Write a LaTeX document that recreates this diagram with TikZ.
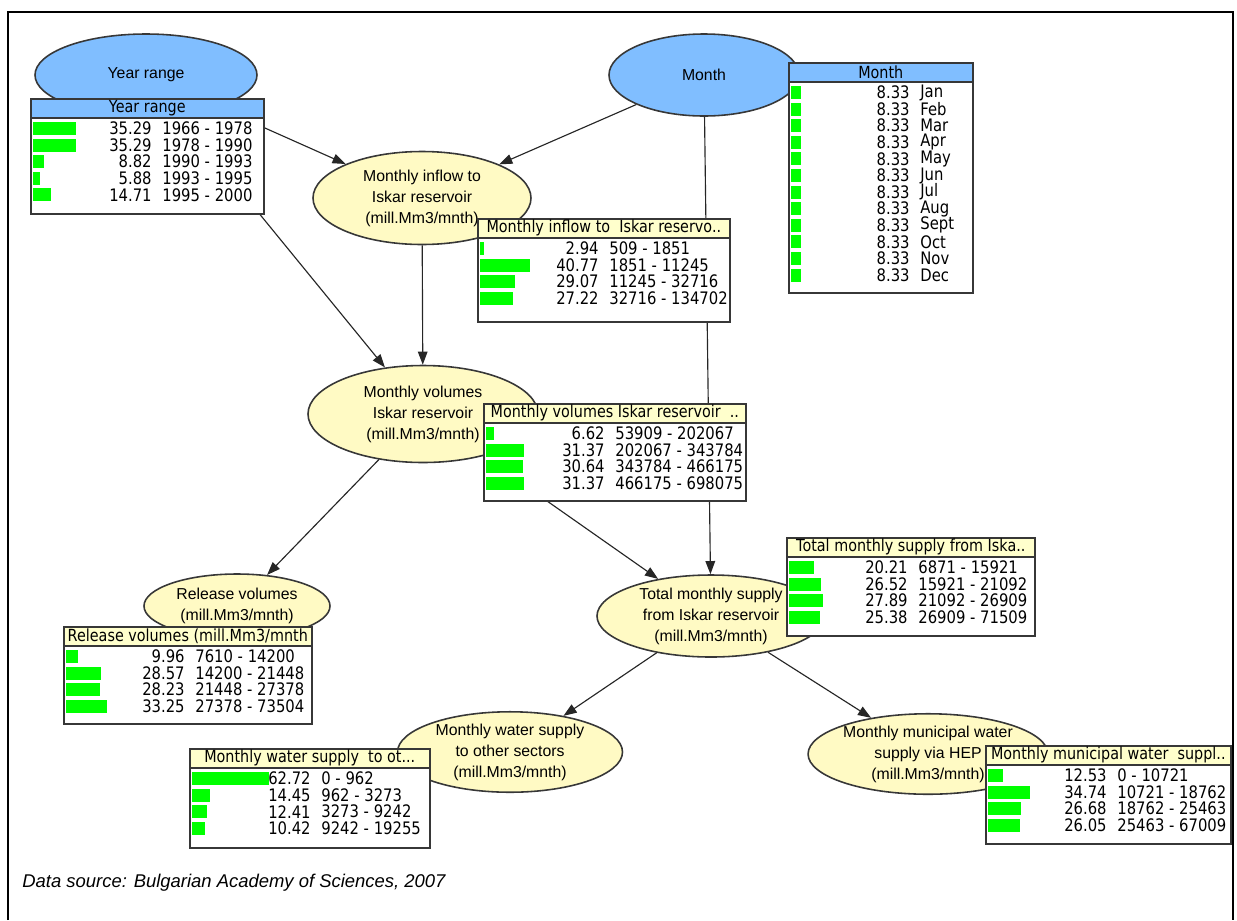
\documentclass[tikz,border=0pt]{standalone}
\usepackage{fontspec}
\setmainfont{Liberation Sans}
\newfontfamily\cptfont[FakeStretch=0.86]{DejaVu Sans}
\usetikzlibrary{shapes.geometric,arrows.meta}
\definecolor{varblue}{RGB}{128,190,255}
\definecolor{varyellow}{RGB}{255,250,196}
\definecolor{headyellow}{RGB}{255,255,204}
\definecolor{bargreen}{RGB}{0,255,0}
\definecolor{edgegray}{RGB}{55,55,55}
\newlength{\pxu}
\setlength{\pxu}{0.02cm}
\newcommand{\cpt}[7]{% name, left, top, width, height, header fill, header text
  \xdef\cptx{#2}\xdef\cpty{#3}%
  \node[cptbox, minimum width={#4*\pxu}, minimum height={#5*\pxu}] (#1) at (#2,#3) {};%
  \node[cpthead, fill=#6, minimum width={#4*\pxu}] (#1h) at (#2,#3) {\makebox[0pt]{#7}};%
}
\newcommand{\cptrow}[4]{% name, row, percent, state
  \pgfmathsetmacro{\rowy}{\cpty+30.5+16.6*(#2-1)}%
  \fill[bargreen] (\cptx+3,\rowy-6.5) rectangle ++({1.22*#3},13);%
  \node[cpttext, anchor=east] (#1p#2) at (\cptx+122,\rowy) {#3};%
  \node[cpttext, anchor=west] (#1s#2) at (\cptx+132,\rowy) {#4};%
}
\tikzset{
  chance/.style={ellipse, draw=edgegray, line width=0.9pt, align=center, inner sep=0pt,
    font=\fontsize{9}{12}\selectfont},
  cptbox/.style={draw=edgegray, line width=0.9pt, fill=white, anchor=north west, inner sep=0pt},
  cpthead/.style={draw=edgegray, line width=0.9pt, anchor=north west, inner sep=0pt,
    minimum height={19*\pxu}, font=\cptfont\fontsize{9.5}{10}\selectfont},
  cpttext/.style={inner sep=0pt, font=\cptfont\fontsize{9.8}{10}\selectfont},
  depend/.style={draw=black!85, line width=0.65pt, -{Triangle[length=7.5pt,width=5.5pt]}}
}
\begin{document}
\begin{tikzpicture}[x=0.02cm, y=-0.02cm]
  \useasboundingbox (0,0) rectangle (1237,920);
  \draw[line width=1pt] (8,920) -- (8,12) -- (1233,12) -- (1233,920);
  %
  \node[chance, fill=varblue, minimum width={222*\pxu}, minimum height={82*\pxu}] (yr) at (146,75) {Year range};
  \node[chance, fill=varblue, minimum width={190*\pxu}, minimum height={82*\pxu}] (mon) at (704,75) {Month};
  \node[chance, fill=varyellow, minimum width={218*\pxu}, minimum height={93*\pxu}] (inflow) at (422,198) {Monthly inflow to\\Iskar reservoir\\(mill.Mm3/mnth)};
  \node[chance, fill=varyellow, minimum width={230*\pxu}, minimum height={97*\pxu}] (vol) at (423,414) {Monthly volumes\\Iskar reservoir\\(mill.Mm3/mnth)};
  \node[chance, fill=varyellow, minimum width={186*\pxu}, minimum height={64*\pxu}] (rel) at (237,606) {Release volumes\\(mill.Mm3/mnth)};
  \node[chance, fill=varyellow, minimum width={228*\pxu}, minimum height={82*\pxu}] (tot) at (711,616) {Total monthly supply\\from Iskar reservoir\\(mill.Mm3/mnth)};
  \node[chance, fill=varyellow, minimum width={225*\pxu}, minimum height={78*\pxu}] (oth) at (510,752) {Monthly water supply\\to other sectors\\(mill.Mm3/mnth)};
  \node[chance, fill=varyellow, minimum width={232*\pxu}, minimum height={79*\pxu}] (mun) at (928,754) {Monthly municipal water\\supply via HEP\\(mill.Mm3/mnth)};
  %
  \draw[depend] (yr) -- (inflow);
  \draw[depend] (yr) -- (vol);
  \draw[depend] (mon) -- (inflow);
  \draw[depend] (mon) -- (tot);
  \draw[depend] (inflow) -- (vol);
  \draw[depend] (vol) -- (rel);
  \draw[depend] (vol) -- (tot);
  \draw[depend] (tot) -- (oth);
  \draw[depend] (tot) -- (mun);
  %
  \cpt{yrT}{30}{98}{233}{115}{varblue}{Year range}
  \cptrow{yrT}{1}{35.29}{1966 - 1978}
  \cptrow{yrT}{2}{35.29}{1978 - 1990}
  \cptrow{yrT}{3}{8.82}{1990 - 1993}
  \cptrow{yrT}{4}{5.88}{1993 - 1995}
  \cptrow{yrT}{5}{14.71}{1995 - 2000}
  %
  \cpt{monT}{788}{62}{184}{230}{varblue}{Month}
  \cptrow{monT}{1}{8.33}{Jan}
  \cptrow{monT}{2}{8.33}{Feb}
  \cptrow{monT}{3}{8.33}{Mar}
  \cptrow{monT}{4}{8.33}{Apr}
  \cptrow{monT}{5}{8.33}{May}
  \cptrow{monT}{6}{8.33}{Jun}
  \cptrow{monT}{7}{8.33}{Jul}
  \cptrow{monT}{8}{8.33}{Aug}
  \cptrow{monT}{9}{8.33}{Sept}
  \cptrow{monT}{10}{8.33}{Oct}
  \cptrow{monT}{11}{8.33}{Nov}
  \cptrow{monT}{12}{8.33}{Dec}
  %
  \cpt{inflowT}{477}{218}{252}{103}{headyellow}{Monthly inflow to\ \ Iskar reservo..}
  \cptrow{inflowT}{1}{2.94}{509 - 1851}
  \cptrow{inflowT}{2}{40.77}{1851 - 11245}
  \cptrow{inflowT}{3}{29.07}{11245 - 32716}
  \cptrow{inflowT}{4}{27.22}{32716 - 134702}
  %
  \cpt{volT}{483}{403}{262}{97}{headyellow}{Monthly volumes Iskar reservoir\ \ ..}
  \cptrow{volT}{1}{6.62}{53909 - 202067}
  \cptrow{volT}{2}{31.37}{202067 - 343784}
  \cptrow{volT}{3}{30.64}{343784 - 466175}
  \cptrow{volT}{4}{31.37}{466175 - 698075}
  %
  \cpt{relT}{63}{626}{248}{97}{headyellow}{Release volumes (mill.Mm3/mnth}
  \cptrow{relT}{1}{9.96}{7610 - 14200}
  \cptrow{relT}{2}{28.57}{14200 - 21448}
  \cptrow{relT}{3}{28.23}{21448 - 27378}
  \cptrow{relT}{4}{33.25}{27378 - 73504}
  %
  \cpt{totT}{786}{537}{248}{98}{headyellow}{Total monthly supply from Iska..}
  \cptrow{totT}{1}{20.21}{6871 - 15921}
  \cptrow{totT}{2}{26.52}{15921 - 21092}
  \cptrow{totT}{3}{27.89}{21092 - 26909}
  \cptrow{totT}{4}{25.38}{26909 - 71509}
  %
  \cpt{othT}{189}{748}{240}{99}{headyellow}{Monthly water supply\ \ to ot...}
  \cptrow{othT}{1}{62.72}{0 - 962}
  \cptrow{othT}{2}{14.45}{962 - 3273}
  \cptrow{othT}{3}{12.41}{3273 - 9242}
  \cptrow{othT}{4}{10.42}{9242 - 19255}
  %
  \cpt{munT}{985}{745}{245}{98}{headyellow}{Monthly municipal water\ \ suppl..}
  \cptrow{munT}{1}{12.53}{0 - 10721}
  \cptrow{munT}{2}{34.74}{10721 - 18762}
  \cptrow{munT}{3}{26.68}{18762 - 25463}
  \cptrow{munT}{4}{26.05}{25463 - 67009}
  %
  \node[anchor=west, inner sep=0pt, font=\itshape\fontsize{10.5}{12}\selectfont] (source) at (22,883) {Data source: Bulgarian Academy of Sciences, 2007};
\end{tikzpicture}
\end{document}
